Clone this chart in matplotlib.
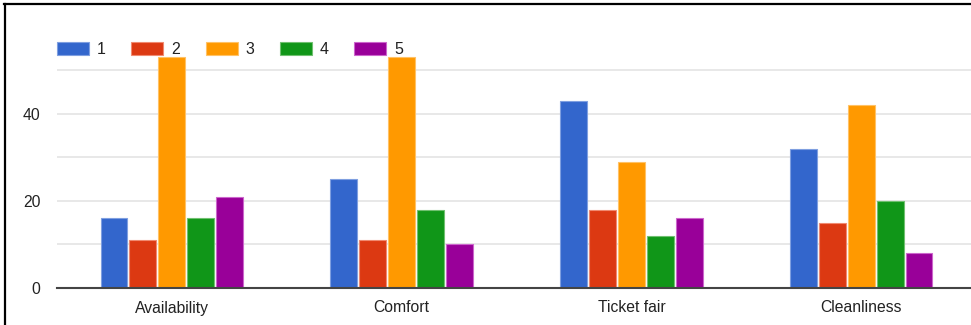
import matplotlib
matplotlib.use("Agg")
import matplotlib.pyplot as plt
from matplotlib.lines import Line2D
import numpy as np

categories = ["Availability", "Comfort", "Ticket fair", "Cleanliness"]
series_names = ["1", "2", "3", "4", "5"]
s1 = [16, 25, 43, 32]
s2 = [11, 11, 18, 15]
s3 = [53, 53, 29, 42]
s4 = [16, 18, 12, 20]
s5 = [21, 10, 16, 8]
series = [s1, s2, s3, s4, s5]
colors = ["#3366cc", "#dc3912", "#ff9900", "#109618", "#990099"]
edges = ["#7f9fe0", "#f08a70", "#ffc266", "#70c070", "#cc66cc"]
ytick_vals = [0, 20, 40]

plt.rcParams['font.family'] = ['Liberation Sans', 'DejaVu Sans']

W, H = 971, 325
fig = plt.figure(figsize=(W / 100, H / 100), dpi=100)
fig.patch.set_facecolor("white")

left, right, bottom, top = 57, 976, 288, 53
ax = fig.add_axes([left / W, (H - bottom) / H, (right - left) / W, (bottom - top) / H])
ax.set_facecolor("white")

x = np.arange(len(categories))
bw = 0.117
step = 0.126
for i, (vals, c, ec, name) in enumerate(zip(series, colors, edges, series_names)):
    ax.bar(x + (i - 2) * step, vals, width=bw, color=c, edgecolor=ec, linewidth=0.8,
           label=name, zorder=3)

ax.set_xlim(-0.5, len(categories) - 0.5)
ax.set_ylim(0, 54)
ax.set_yticks(ytick_vals)
ax.set_yticks([10, 30, 50], minor=True)
ax.grid(axis="y", which="both", color="#e6e6e6", linewidth=1.3, zorder=0)
ax.set_axisbelow(True)
for s in ["top", "right", "left"]:
    ax.spines[s].set_visible(False)
ax.spines["bottom"].set_color("#444444")
ax.spines["bottom"].set_linewidth(1.5)
ax.spines["bottom"].set_zorder(4)
ax.set_xticks(x)
ax.set_xticklabels(categories)
ax.tick_params(axis="both", which="both", length=0, labelsize=11.3, colors="#222222")
ax.tick_params(axis="y", pad=12)
ax.tick_params(axis="x", pad=9)

leg = ax.legend(loc="upper left", bbox_to_anchor=(57 / W, 1 - 42 / H),
                bbox_transform=fig.transFigure, ncol=5, frameon=False,
                fontsize=11.5, handlelength=2.0, handleheight=0.9,
                handletextpad=0.5, columnspacing=1.6, borderpad=0,
                borderaxespad=0)
for t in leg.get_texts():
    t.set_color("#222222")

# outer border (top and left visible in the reference)
fig.add_artist(Line2D([4 / W, 1.0], [1 - 4 / H, 1 - 4 / H], transform=fig.transFigure,
                      color="black", linewidth=1.6))
fig.add_artist(Line2D([4.5 / W, 4.5 / W], [0, 1 - 4 / H], transform=fig.transFigure,
                      color="black", linewidth=1.6))

fig.savefig("out.png", dpi=100, facecolor="white")
